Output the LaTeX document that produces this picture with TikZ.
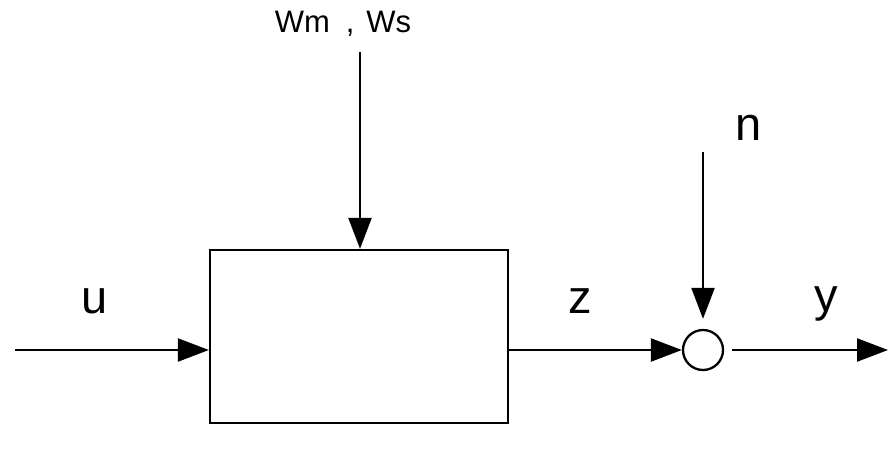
\documentclass[tikz,border=0pt]{standalone}
\usepackage{fontspec}
\setmainfont{Liberation Sans}
\usepackage{tikz}
\usetikzlibrary{arrows.meta, positioning}
\tikzset{
    base/.style={draw=black, line width=2.3pt, inner sep=0pt},
    plant/.style={base, rectangle, minimum width=298pt, minimum height=173pt},
    sumnode/.style={base, circle, minimum size=40pt},
    sig/.style={font=\fontsize{47}{54}\selectfont, inner sep=0pt, anchor=base},
    smallsig/.style={font=\fontsize{31}{36}\selectfont, inner sep=0pt, anchor=base},
    line/.style={draw=black, line width=2.3pt, -{Triangle[length=31pt, width=23pt]}}
}
\begin{document}
\begin{tikzpicture}[x=1pt, y=-1pt]
    \useasboundingbox (0,0) rectangle (888,450);
    \node [plant] (Plant) at (359,336.5) {};
    \node [sumnode] (Sum) at (703,350) {};

    \coordinate (In) at (15,350);
    \coordinate (Dist) at (360,52);
    \coordinate (Noise) at (703,152);
    \coordinate (OutStart) at (732,350);
    \coordinate (Out) at (888,350);

    \draw [line] (In) -- (In -| Plant.west);
    \draw [line] (Dist) -- (Dist |- Plant.north);
    \draw [line] (Plant.east |- Sum) -- (Sum.west);
    \draw [line] (Noise) -- ([yshift=10pt]Sum.north);
    \draw [line] (OutStart) -- (Out);

    \node [sig] (LabU) at (95,313) {u};
    \node [sig] (LabZ) at (580,313) {z};
    \node [sig] (LabY) at (826,311) {y};
    \node [sig] (LabN) at (749,140) {n};
    \node [smallsig] (LabW) at (343,32) {Wm\hspace{16pt},\hspace{12pt}Ws};
\end{tikzpicture}
\end{document}
